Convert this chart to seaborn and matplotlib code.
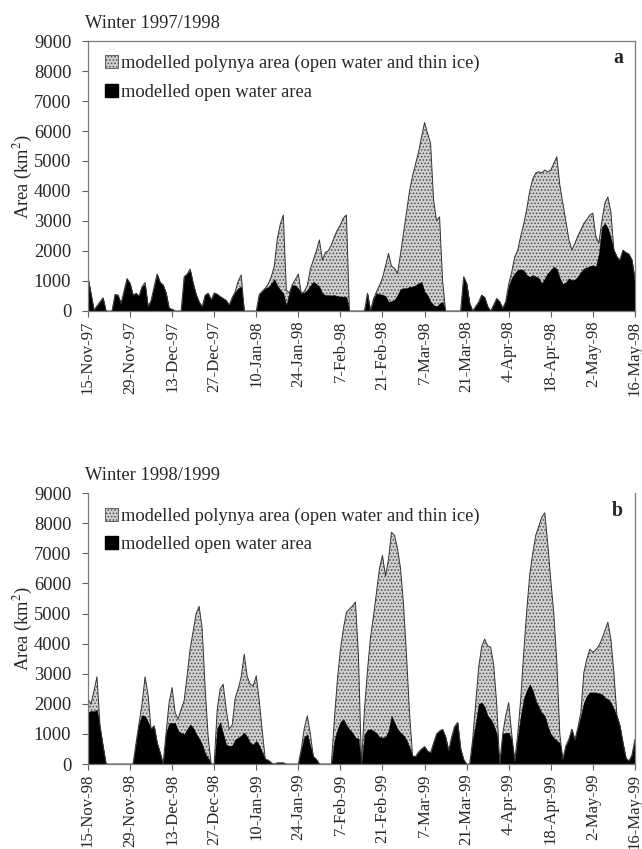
import matplotlib
matplotlib.use("Agg")
import matplotlib.pyplot as plt
from matplotlib.patches import Patch
import seaborn as sns
import pandas as pd

# ---------------- data (day offset from 15 Nov, area km2) ----------------
days_a = [0, 2, 5, 6, 8, 9, 10, 11, 13, 14, 15, 16, 17, 18, 19, 20, 21, 22, 23, 24,
          25, 26, 27, 28, 29, 31, 32, 33, 34, 35, 36, 37, 38, 39, 40, 41, 42, 43, 44, 45,
          46, 47, 48, 49, 50, 51, 52, 56, 57, 58, 59, 60, 61, 62, 63, 64, 65, 66, 67, 68,
          69, 70, 71, 72, 73, 74, 75, 76, 77, 78, 79, 80, 81, 82, 83, 84, 85, 86, 87, 92,
          93, 94, 95, 96, 97, 98, 99, 100, 101, 102, 103, 104, 105, 106, 107, 108, 109, 110, 111, 112,
          113, 114, 115, 116, 117, 118, 119, 124, 125, 126, 127, 128, 129, 130, 131, 132, 133, 134, 135, 136,
          137, 138, 139, 140, 141, 142, 143, 144, 145, 146, 147, 148, 149, 150, 151, 152, 153, 154, 155, 156,
          157, 158, 159, 160, 161, 162, 163, 164, 165, 166, 167, 168, 169, 170, 171, 172, 173, 174, 175, 176,
          177, 178, 179, 180, 181, 182]
poly_a = [1120, 30, 440, 0, 0, 550, 530, 250, 1080, 920, 530, 590, 500, 810, 950, 140, 350, 800, 1230, 960,
          870, 600, 90, 60, 0, 0, 1140, 1230, 1400, 920, 550, 300, 140, 530, 590, 370, 600, 560, 480, 420,
          350, 200, 450, 640, 1000, 1200, 0, 0, 550, 660, 760, 900, 1140, 1500, 2400, 2900, 3200, 700, 600, 880,
          1050, 1230, 590, 650, 850, 1400, 1700, 2000, 2370, 1700, 1950, 2010, 2200, 2480, 2700, 2870, 3100, 3200, 0, 0,
          590, 0, 400, 640, 850, 1100, 1500, 1920, 1500, 1420, 1250, 1900, 2600, 3300, 4000, 4500, 4900, 5300, 5800, 6280,
          5920, 5600, 3700, 3000, 3140, 1000, 0, 0, 1140, 920, 260, 0, 150, 300, 530, 450, 150, 0, 200, 420,
          310, 90, 310, 900, 1300, 1800, 2030, 2500, 2900, 3400, 4000, 4400, 4600, 4640, 4600, 4700, 4640, 4700, 4920, 5140,
          4200, 3600, 3000, 2400, 2030, 2250, 2500, 2700, 2920, 3050, 3200, 3260, 2480, 2260, 3000, 3600, 3800, 3300, 2030, 1810,
          1700, 2030, 1950, 1900, 1700, 1030]
open_a = [1120, 30, 440, 0, 0, 550, 530, 250, 1080, 920, 530, 590, 500, 810, 900, 140, 350, 800, 1230, 960,
          870, 600, 90, 60, 0, 0, 1140, 1230, 1370, 920, 550, 300, 140, 530, 590, 370, 600, 560, 480, 420,
          350, 200, 450, 640, 760, 810, 0, 0, 550, 660, 760, 800, 920, 1060, 850, 700, 590, 200, 600, 870,
          850, 760, 590, 620, 700, 850, 980, 900, 810, 590, 530, 530, 520, 530, 500, 480, 480, 470, 0, 0,
          590, 0, 400, 590, 560, 545, 500, 310, 330, 370, 530, 740, 760, 760, 810, 810, 860, 920, 980, 640,
          530, 310, 200, 150, 250, 310, 0, 0, 1140, 920, 260, 0, 150, 300, 530, 450, 150, 0, 200, 420,
          310, 90, 310, 850, 1100, 1260, 1370, 1390, 1350, 1200, 1140, 1200, 1150, 1100, 920, 1090, 1260, 1370, 1480, 1400,
          1100, 900, 950, 1090, 1030, 1050, 1150, 1300, 1420, 1450, 1500, 1530, 1480, 1920, 2800, 2920, 2750, 2420, 2030, 1810,
          1700, 2030, 1950, 1900, 1700, 1030]

days_b = [0, 1, 2, 3, 4, 5, 6, 15, 16, 17, 18, 19, 20, 21, 22, 23, 24, 25, 26, 27,
          28, 29, 30, 31, 32, 33, 34, 35, 36, 37, 38, 39, 40, 41, 42, 43, 44, 45, 46, 47,
          48, 49, 50, 51, 52, 53, 54, 55, 56, 57, 58, 59, 60, 61, 62, 63, 65, 66, 70, 71,
          72, 73, 74, 75, 76, 77, 81, 82, 83, 84, 85, 86, 87, 88, 89, 90, 91, 92, 93, 94,
          95, 96, 97, 98, 99, 100, 101, 102, 103, 104, 105, 106, 107, 108, 109, 110, 111, 112, 113, 114,
          115, 116, 117, 118, 119, 120, 121, 122, 123, 124, 125, 126, 127, 128, 129, 130, 131, 132, 133, 134,
          135, 136, 137, 138, 139, 140, 141, 142, 143, 144, 145, 146, 147, 148, 149, 150, 151, 152, 153, 154,
          155, 156, 157, 158, 159, 160, 161, 162, 163, 164, 165, 166, 167, 168, 169, 170, 171, 172, 173, 174,
          175, 176, 177, 178, 179, 180, 181, 182]
poly_b = [2160, 1990, 2430, 2900, 1300, 600, 0, 0, 700, 1350, 2000, 2900, 2300, 1160, 1270, 710, 380, 0, 1040, 2040,
          2540, 1710, 1490, 1820, 2100, 2930, 3820, 4400, 5000, 5240, 4500, 2500, 900, 0, 0, 1800, 2500, 2650, 1820, 1160,
          1300, 2200, 2500, 2900, 3650, 2900, 2650, 2600, 2930, 2100, 1100, 160, 130, 40, 0, 40, 40, 0, 0, 500,
          1200, 1600, 1000, 250, 160, 0, 0, 1500, 2800, 3800, 4500, 5040, 5150, 5250, 5380, 3600, 0, 1800, 3100, 4200,
          4900, 5700, 6500, 6930, 6250, 6800, 7700, 7600, 7160, 6500, 5300, 3600, 1700, 270, 250, 400, 500, 580, 430, 380,
          700, 1000, 1100, 1150, 900, 450, 900, 1250, 1380, 500, 150, 0, 0, 800, 2000, 3200, 3900, 4150, 3930, 3880,
          3300, 2000, 0, 1000, 1600, 2040, 1000, 100, 1000, 2160, 3710, 5100, 6300, 7000, 7600, 7900, 8200, 8350, 7300, 6100,
          5000, 3400, 1000, 160, 600, 820, 1160, 800, 1200, 1700, 3040, 3490, 3820, 3710, 3800, 3930, 4150, 4430, 4710, 4150,
          3040, 1600, 1270, 700, 200, 100, 300, 820]
open_b = [1710, 1770, 1750, 1800, 1200, 600, 0, 0, 700, 1350, 1620, 1600, 1400, 1160, 1270, 710, 380, 0, 1040, 1360,
          1360, 1360, 1100, 1040, 990, 1160, 1320, 1200, 1000, 850, 650, 350, 200, 0, 0, 1200, 1380, 1000, 650, 600,
          620, 820, 880, 950, 1040, 900, 700, 650, 770, 620, 380, 160, 130, 40, 0, 40, 40, 0, 0, 500,
          900, 990, 600, 250, 160, 0, 0, 800, 1150, 1400, 1490, 1300, 1150, 1040, 880, 850, 0, 1000, 1130, 1160,
          1100, 1030, 900, 880, 900, 1100, 1600, 1380, 1160, 1050, 950, 800, 550, 270, 250, 400, 500, 580, 430, 380,
          700, 1000, 1100, 1150, 900, 450, 900, 1250, 1380, 500, 150, 0, 0, 800, 1350, 2000, 2050, 1900, 1600, 1490,
          1300, 1000, 0, 1000, 1040, 1040, 800, 100, 900, 1600, 2160, 2450, 2650, 2450, 2100, 1900, 1700, 1600, 1250, 1000,
          870, 780, 700, 160, 600, 820, 1160, 800, 1200, 1600, 2040, 2270, 2380, 2380, 2380, 2350, 2320, 2210, 2160, 2040,
          1820, 1600, 1270, 700, 200, 100, 300, 820]

tick_days = [0, 14, 28, 42, 56, 70, 84, 98, 112, 126, 140, 154, 168, 182]
labels_a = ["15-Nov-97", "29-Nov-97", "13-Dec-97", "27-Dec-97", "10-Jan-98", "24-Jan-98", "7-Feb-98",
            "21-Feb-98", "7-Mar-98", "21-Mar-98", "4-Apr-98", "18-Apr-98", "2-May-98", "16-May-98"]
labels_b = ["15-Nov-98", "29-Nov-98", "13-Dec-98", "27-Dec-98", "10-Jan-99", "24-Jan-99", "7-Feb-99",
            "21-Feb-99", "7-Mar-99", "21-Mar-99", "4-Apr-99", "18-Apr-99", "2-May-99", "16-May-99"]
titles = ["Winter 1997/1998", "Winter 1998/1999"]
letters = ["a", "b"]
y_ticks = [0, 1000, 2000, 3000, 4000, 5000, 6000, 7000, 8000, 9000]
legend_labels = ["modelled polynya area (open water and thin ice)", "modelled open water area"]

# ---------------- style ----------------
sns.set_style("ticks")
plt.rcParams["font.family"] = ["Liberation Serif", "DejaVu Serif"]
plt.rcParams["mathtext.fontset"] = "stix"
plt.rcParams["hatch.linewidth"] = 0.7
FS = 13.3      # horizontal text
FS_X = 12      # rotated x tick labels

fig = plt.figure(figsize=(6.42, 8.49), dpi=100)
ax_a = fig.add_axes([0.137, 0.6337, 0.852, 0.318])
ax_b = fig.add_axes([0.137, 0.1001, 0.852, 0.319])

panels = [
    (ax_a, days_a, poly_a, open_a, labels_a, True),
    (ax_b, days_b, poly_b, open_b, labels_b, False),
]

HATCH_FC = "#d0d0d0"
HATCH_EC = "#4c4c4c"
HATCH = "....."

for i, (ax, d, p, o, labs, top_spine) in enumerate(panels):
    df = pd.DataFrame({"day": d, "poly": p, "open": o})
    ax.fill_between(df["day"], 0, df["poly"], facecolor=HATCH_FC, edgecolor=HATCH_EC,
                    hatch=HATCH, linewidth=0)
    sns.lineplot(data=df, x="day", y="poly", ax=ax, color="#333333", linewidth=0.7)
    ax.fill_between(df["day"], 0, df["open"], facecolor="black", edgecolor="black", linewidth=0.3)

    ax.set_xlim(0, 182)
    ax.set_ylim(0, 9000)
    ax.set_xticks(tick_days)
    ax.set_xticklabels(labs, rotation=90, fontsize=FS_X)
    ax.set_yticks(y_ticks)
    ax.set_yticklabels([str(v) for v in y_ticks], fontsize=FS)
    ax.set_xlabel("")
    ax.set_ylabel("Area (km$^{2}$)", fontsize=FS)
    ax.yaxis.set_label_coords(-0.097, 0.5)
    ax.tick_params(axis="both", direction="out", length=4, width=0.8, color="#606060")
    ax.tick_params(axis="y", pad=8)
    ax.tick_params(axis="x", pad=3)
    for side in ["left", "right", "bottom", "top"]:
        ax.spines[side].set_color("#7a7a7a")
        ax.spines[side].set_linewidth(0.9)
    ax.spines["top"].set_visible(top_spine)
    ax.spines["right"].set_visible(True)
    ax.set_facecolor("white")

    ax.text(-0.006, 1.035, titles[i], transform=ax.transAxes, fontsize=FS,
            ha="left", va="bottom")
    ax.text(0.978, 0.936, letters[i], transform=ax.transAxes, fontsize=FS + 1,
            fontweight="bold", ha="right", va="center")

    handles = [
        Patch(facecolor=HATCH_FC, edgecolor=HATCH_EC, hatch=HATCH, linewidth=0.6),
        Patch(facecolor="black", edgecolor="black"),
    ]
    ax.legend(handles, legend_labels, loc="upper left", bbox_to_anchor=(0.018, 0.975),
              frameon=False, fontsize=FS, handlelength=0.7, handleheight=0.7,
              handletextpad=0.15, labelspacing=0.6, borderaxespad=0)

fig.savefig("out.png", dpi=100)
